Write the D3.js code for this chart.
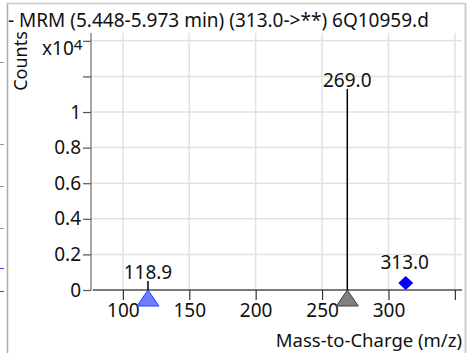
<!DOCTYPE html>
<html><head><meta charset="utf-8">
<script src="https://cdn.jsdelivr.net/npm/d3@7"></script>
<style>
html,body{margin:0;padding:0;background:#fff;}
svg{display:block;font-family:"Noto Sans",sans-serif;}
</style></head>
<body>
<svg id="c" width="474" height="353"></svg>
<script>
const titleText = "- MRM (5.448-5.973 min) (313.0->**) 6Q10959.d";
const peakMz = [118.9, 269.0];
const peakCounts = [500, 11300];
const peakLabels = ["118.9", "269.0"];
const triangleMz = [118.9, 269.0];
const triangleFill = ["#6e7dff", "#808080"];
const triangleStroke = ["#2a3cff", "#404040"];
const precursorMz = [313.0];
const precursorCounts = [400];
const precursorLabels = ["313.0"];
const xTicks = [100, 150, 200, 250, 300, 350];
const xTickLabels = ["100", "150", "200", "250", "300", ""];
const yTicks = [0, 2000, 4000, 6000, 8000, 10000, 12000, 14000];
const yTickLabels = ["0", "0.2", "0.4", "0.6", "0.8", "1", "", ""];
const leftTickYs = [62, 144, 186, 228, 268, 291];
const leftTickColors = ["#999", "#999", "#999", "#999", "#3344ff", "#555"];

const FONT = "Noto Sans";
const FS = 19;
const svg = d3.select("#c");
const x = d3.scaleLinear().domain([76, 355]).range([91, 461.5]);
const y = d3.scaleLinear().domain([0, 14440]).range([290, 33]);

// frame remnants
svg.append("line").attr("x1",7.5).attr("x2",7.5).attr("y1",3).attr("y2",353).attr("stroke","#aaa").attr("stroke-width",1.5);
svg.append("line").attr("x1",7).attr("x2",466).attr("y1",3.5).attr("y2",3.5).attr("stroke","#ccc").attr("stroke-width",1.5);
svg.append("line").attr("x1",465.5).attr("x2",465.5).attr("y1",3).attr("y2",353).attr("stroke","#ccc").attr("stroke-width",2);
svg.selectAll(".lt").data(leftTickYs).enter().append("line")
  .attr("x1",0).attr("x2",4).attr("y1",d=>d+0.5).attr("y2",d=>d+0.5)
  .attr("stroke",(d,i)=>leftTickColors[i]).attr("stroke-width",1);

// gridlines
svg.append("g").selectAll("line").data(yTicks).enter().append("line")
  .attr("x1",91).attr("x2",462).attr("y1",d=>y(d)).attr("y2",d=>y(d))
  .attr("stroke","#e2e2e2").attr("stroke-width",1.5);
svg.append("g").selectAll("line").data(xTicks).enter().append("line")
  .attr("x1",d=>x(d)).attr("x2",d=>x(d)).attr("y1",33).attr("y2",290)
  .attr("stroke","#e2e2e2").attr("stroke-width",1.5);

// y axis
const yAxis = d3.axisLeft(y).tickValues(yTicks).tickSize(8).tickPadding(2)
  .tickFormat((d,i)=>yTickLabels[i]);
const gy = svg.append("g").attr("transform","translate(91,0)").call(yAxis);
gy.select(".domain").attr("d","M0,33V290").attr("stroke","#888").attr("stroke-width",1.5);
gy.selectAll(".tick line").attr("stroke","#555").attr("stroke-width",1.2);
gy.selectAll(".tick text").attr("font-size",FS).attr("fill","#111").attr("font-family",FONT);

// x axis
const xAxis = d3.axisBottom(x).tickValues(xTicks).tickSize(10).tickPadding(4)
  .tickFormat((d,i)=>xTickLabels[i]);
const gx = svg.append("g").attr("transform","translate(0,290)").call(xAxis);
gx.select(".domain").attr("d","M93,0H462").attr("stroke","#555").attr("stroke-width",1.5);
gx.selectAll(".tick line").attr("stroke","#333").attr("stroke-width",1.2);
gx.selectAll(".tick text").attr("font-size",FS).attr("fill","#111").attr("font-family",FONT);

// x10^4 label
const sci = svg.append("text").attr("x",42).attr("y",55).attr("font-size",FS).attr("fill","#111");
sci.append("tspan").text("x10");
sci.append("tspan").attr("dy",-5).attr("font-size",15).text("4");

// Counts label
svg.append("text").attr("transform","translate(27,61) rotate(-90)").attr("text-anchor","middle")
  .attr("font-size",FS-1).attr("fill","#111").text("Counts");

// title
svg.append("text").attr("x",8).attr("y",27).attr("font-size",FS).attr("fill","#111").text(titleText);

// x axis title
svg.append("text").attr("x",462).attr("y",347).attr("text-anchor","end")
  .attr("font-size",FS-0.5).attr("fill","#111").text("Mass-to-Charge (m/z)");

// peaks
svg.append("g").selectAll("line").data(peakMz).enter().append("line")
  .attr("x1",d=>x(d)).attr("x2",d=>x(d)).attr("y1",y(0)).attr("y2",(d,i)=>y(peakCounts[i]))
  .attr("stroke","#000").attr("stroke-width",1.5);
svg.append("g").selectAll("text").data(peakMz).enter().append("text")
  .attr("x",d=>x(d)).attr("y",(d,i)=>y(peakCounts[i])-2).attr("text-anchor","middle")
  .attr("font-size",FS).attr("fill","#111").text((d,i)=>peakLabels[i]);

// triangles
svg.append("g").selectAll("path").data(triangleMz).enter().append("path")
  .attr("d",d=>{const cx=x(d), t=y(0); return `M${cx},${t}L${cx+11},${t+16}L${cx-11},${t+16}Z`;})
  .attr("fill",(d,i)=>triangleFill[i]).attr("stroke",(d,i)=>triangleStroke[i]).attr("stroke-width",1);

// precursor diamond
svg.append("g").selectAll("path").data(precursorMz).enter().append("path")
  .attr("d",(d,i)=>{const cx=x(d), cy=y(precursorCounts[i]); return `M${cx},${cy-7}L${cx+7.5},${cy}L${cx},${cy+7}L${cx-7.5},${cy}Z`;})
  .attr("fill","#0000ff");
svg.append("g").selectAll("text").data(precursorMz).enter().append("text")
  .attr("x",d=>x(d)-1).attr("y",(d,i)=>y(precursorCounts[i])-14).attr("text-anchor","middle")
  .attr("font-size",FS).attr("fill","#111").text((d,i)=>precursorLabels[i]);
</script>
</body></html>
